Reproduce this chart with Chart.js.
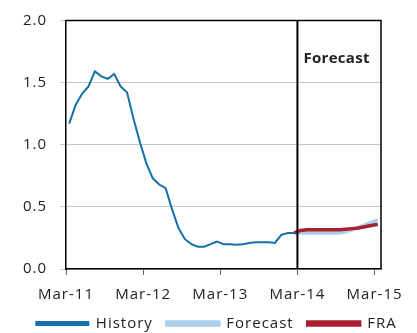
<!DOCTYPE html>
<html>
<head>
<meta charset="utf-8">
<script src="https://cdn.jsdelivr.net/npm/chart.js@4"></script>
<style>
  html, body { margin: 0; padding: 0; background: #fff; }
  #wrap { width: 417px; height: 333px; }
</style>
</head>
<body>
<div id="wrap"><canvas id="rateChart"></canvas></div>
<script>
// months counted from Mar-11; values sit mid-month
const yearLabels = ['Mar-11', 'Mar-12', 'Mar-13', 'Mar-14', 'Mar-15'];
const yearMonths = [0, 12, 24, 36, 48];
const forecastStart = 35; // Feb-14, last month of history

const history = [1.17, 1.32, 1.41, 1.47, 1.59, 1.55, 1.53, 1.57, 1.47, 1.42, 1.21, 1.02,
                 0.85, 0.73, 0.68, 0.65, 0.48, 0.33, 0.24, 0.20, 0.18, 0.18, 0.20, 0.22,
                 0.20, 0.20, 0.195, 0.20, 0.21, 0.215, 0.215, 0.215, 0.21, 0.275, 0.29, 0.29];
const forecast = [0.29, 0.29, 0.29, 0.29, 0.29, 0.29, 0.29, 0.29, 0.30, 0.315, 0.335, 0.355, 0.375, 0.395];
const fra = [0.29, 0.31, 0.315, 0.315, 0.315, 0.315, 0.315, 0.315, 0.32, 0.325, 0.33, 0.34, 0.35, 0.36];

const toPoints = (vals, start) => vals.map((v, i) => ({ x: start + i + 0.5, y: v }));

const FONT = "'Open Sans', 'DejaVu Sans', sans-serif";
Chart.defaults.font.family = FONT;
Chart.defaults.font.size = 15;
Chart.defaults.color = '#222';

// the canvas state is reset on resize, so widen the text again before measuring and drawing
const spacingPlugin = {
    id: 'spacing',
    beforeLayout(chart) { chart.ctx.letterSpacing = '1px'; },
    beforeDraw(chart) { chart.ctx.letterSpacing = '1px'; }
};

// frame round the plot, the Mar-14 divider and its label
const framePlugin = {
    id: 'frame',
    afterDatasetsDraw(chart) {
        const { ctx, chartArea: a, scales } = chart;
        const xDiv = scales.x.getPixelForValue(yearMonths[3]);
        ctx.save();
        ctx.strokeStyle = '#000';
        ctx.lineWidth = 1.5;
        ctx.beginPath();
        ctx.moveTo(a.left, a.top);
        ctx.lineTo(a.right, a.top);
        ctx.lineTo(a.right, a.bottom);
        ctx.stroke();
        ctx.lineWidth = 2;
        ctx.beginPath();
        ctx.moveTo(xDiv, a.top);
        ctx.lineTo(xDiv, a.bottom);
        ctx.stroke();
        ctx.fillStyle = '#222';
        ctx.font = "bold 15px " + FONT;
        ctx.letterSpacing = '0.3px';
        ctx.textAlign = 'left';
        ctx.textBaseline = 'middle';
        ctx.fillText('Forecast', xDiv + 6, a.top + 38);
        ctx.restore();
    }
};

const ctx = document.getElementById('rateChart').getContext('2d');
const rateChart = new Chart(ctx, {
    type: 'line',
    data: {
        datasets: [{
            label: 'History',
            data: toPoints(history, 0),
            borderColor: '#1470a8',
            backgroundColor: '#1470a8',
            borderWidth: 2,
            order: 0
        }, {
            label: 'Forecast',
            data: toPoints(forecast, forecastStart),
            borderColor: '#a9cfee',
            backgroundColor: '#a9cfee',
            borderWidth: 3.5,
            order: 2
        }, {
            label: 'FRA',
            data: toPoints(fra, forecastStart),
            borderColor: '#a8212e',
            backgroundColor: '#a8212e',
            borderWidth: 3.5,
            order: 1
        }]
    },
    options: {
        responsive: true,
        maintainAspectRatio: false,
        animation: false,
        elements: { point: { radius: 0 }, line: { tension: 0 } },
        layout: { padding: { top: 9, right: 0, left: 16, bottom: -8 } },
        plugins: {
            tooltip: { enabled: false },
            legend: {
                position: 'bottom',
                labels: {
                    boxWidth: 52,
                    boxHeight: 3,
                    padding: 14,
                    sort: (a, b) => a.datasetIndex - b.datasetIndex
                }
            }
        },
        scales: {
            x: {
                type: 'linear',
                min: 0,
                max: 49,
                afterBuildTicks: s => { s.ticks = yearMonths.map(v => ({ value: v })); },
                afterFit: s => { s.height = 33; s.paddingRight = 36; },
                ticks: {
                    autoSkip: false,
                    maxRotation: 0,
                    padding: 11,
                    callback: v => yearLabels[yearMonths.indexOf(v)]
                },
                grid: { drawOnChartArea: false, drawTicks: true, tickLength: 6, color: '#666' },
                border: { color: '#000', width: 1.5 }
            },
            y: {
                min: 0,
                max: 2,
                afterFit: s => { s.width = 50; },
                ticks: { stepSize: 0.5, padding: 13, font: { lineHeight: 1 }, callback: v => v.toFixed(1) },
                grid: { color: '#c6c6c6', tickLength: 6 },
                border: { color: '#000', width: 1.5 }
            }
        }
    },
    plugins: [spacingPlugin, framePlugin]
});
</script>
</body>
</html>
